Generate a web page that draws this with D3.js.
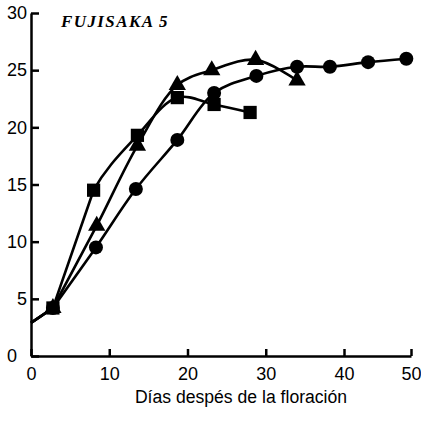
<!DOCTYPE html>
<html>
<head>
<meta charset="utf-8">
<script src="https://cdn.jsdelivr.net/npm/d3@7"></script>
<style>
  body { margin: 0; background: #fff; }
  svg { display: block; }
</style>
</head>
<body>
<svg id="chart" width="421" height="425"></svg>
<script>
// values (days after flowering, y value)
const startDay = 0;
const startValue = 2.9;

const circleDays = [2.8, 8.3, 13.4, 18.7, 23.4, 28.8, 34.0, 38.2, 43.6, 49.3];
const circleValues = [4.2, 9.5, 14.6, 18.9, 23.0, 24.5, 25.3, 25.3, 25.7, 26.0];

const triangleDays = [2.8, 8.4, 13.6, 18.7, 23.1, 28.7, 34.0];
const triangleValues = [4.2, 11.4, 18.4, 23.7, 25.0, 25.9, 24.1];

const squareDays = [2.8, 8.0, 13.6, 18.7, 23.4, 28.0];
const squareValues = [4.2, 14.5, 19.3, 22.6, 22.0, 21.3];

const xTicks = [0, 10, 20, 30, 40, 50];
const yTicks = [0, 5, 10, 15, 20, 25, 30];

const svg = d3.select("#chart");

// the scanned axis is not quite even, so the x scale has a knot at 40
const x = d3.scaleLinear().domain([0, 40, 50]).range([31, 344, 411]);
const y = d3.scaleLinear().domain([0, 30]).range([356, 13]);

const toPoints = (days, vals) => days.map((d, i) => ({ day: d, v: vals[i] }));

const series = [
  { shape: "circle", pts: toPoints(circleDays, circleValues) },
  { shape: "triangle", pts: toPoints(triangleDays, triangleValues) },
  { shape: "square", pts: toPoints(squareDays, squareValues) }
];

const straight = d3.line().x(d => x(d.day)).y(d => y(d.v));
const smooth = d3.line().x(d => x(d.day)).y(d => y(d.v))
  .curve(d3.curveCatmullRom.alpha(0.5));

// drop the first bezier segment so the curve begins at the second point
function dropFirst(d) {
  const parts = d.split("C");
  if (parts.length < 3) return d;
  const nums = parts[1].split(",");
  return "M" + nums.slice(-2).join(",") + "C" + parts.slice(2).join("C");
}

// axes
const gy = svg.append("g")
  .attr("transform", `translate(${x(0)},0)`)
  .call(d3.axisLeft(y).tickValues(yTicks).tickSize(-8).tickSizeOuter(0).tickPadding(4));

const gx = svg.append("g")
  .attr("transform", `translate(0,${y(0)})`)
  .call(d3.axisBottom(x).tickValues(xTicks).tickSize(-7).tickSizeOuter(0).tickPadding(11));

[gx, gy].forEach(g => {
  g.select(".domain").attr("stroke", "#000").attr("stroke-width", 2.5);
  g.selectAll(".tick line").attr("stroke", "#000").attr("stroke-width", 2.5);
  g.selectAll(".tick text")
    .attr("fill", "#000")
    .attr("font-family", "Liberation Sans, Arial, sans-serif")
    .attr("font-size", 18);
});
gy.selectAll(".tick text").filter(d => d === 0).attr("dx", -10);

// lines: early part ruled straight, the rest drawn as a smooth curve
series.forEach(s => {
  const all = [{ day: startDay, v: startValue }].concat(s.pts);
  svg.append("path")
    .attr("fill", "none")
    .attr("stroke", "#000")
    .attr("stroke-width", 2.6)
    .attr("d", straight(all.slice(0, 3)));
  svg.append("path")
    .attr("fill", "none")
    .attr("stroke", "#000")
    .attr("stroke-width", 2.6)
    .attr("d", dropFirst(smooth(all.slice(1))));
});

// markers
const sym = {
  triangle: d3.symbol(d3.symbolTriangle, 130),
  square: d3.symbol(d3.symbolSquare, 175)
};

series.forEach(s => {
  const g = svg.append("g").attr("fill", "#000");
  if (s.shape === "circle") {
    g.selectAll("circle").data(s.pts).enter().append("circle")
      .attr("cx", d => x(d.day))
      .attr("cy", d => y(d.v))
      .attr("r", 7);
  } else {
    g.selectAll("path").data(s.pts).enter().append("path")
      .attr("transform", d => `translate(${x(d.day)},${y(d.v)})`)
      .attr("d", sym[s.shape]());
  }
});

// title and axis label
svg.append("text")
  .attr("x", 61)
  .attr("y", 27)
  .attr("font-family", "Liberation Serif, Times New Roman, serif")
  .attr("font-style", "italic")
  .attr("font-weight", "bold")
  .attr("font-size", 17)
  .attr("letter-spacing", 1.4)
  .text("FUJISAKA 5");

svg.append("text")
  .attr("x", 241)
  .attr("y", 403)
  .attr("text-anchor", "middle")
  .attr("font-family", "Liberation Sans, Arial, sans-serif")
  .attr("font-size", 17.6)
  .text("Días despés de la floración");
</script>
</body>
</html>
